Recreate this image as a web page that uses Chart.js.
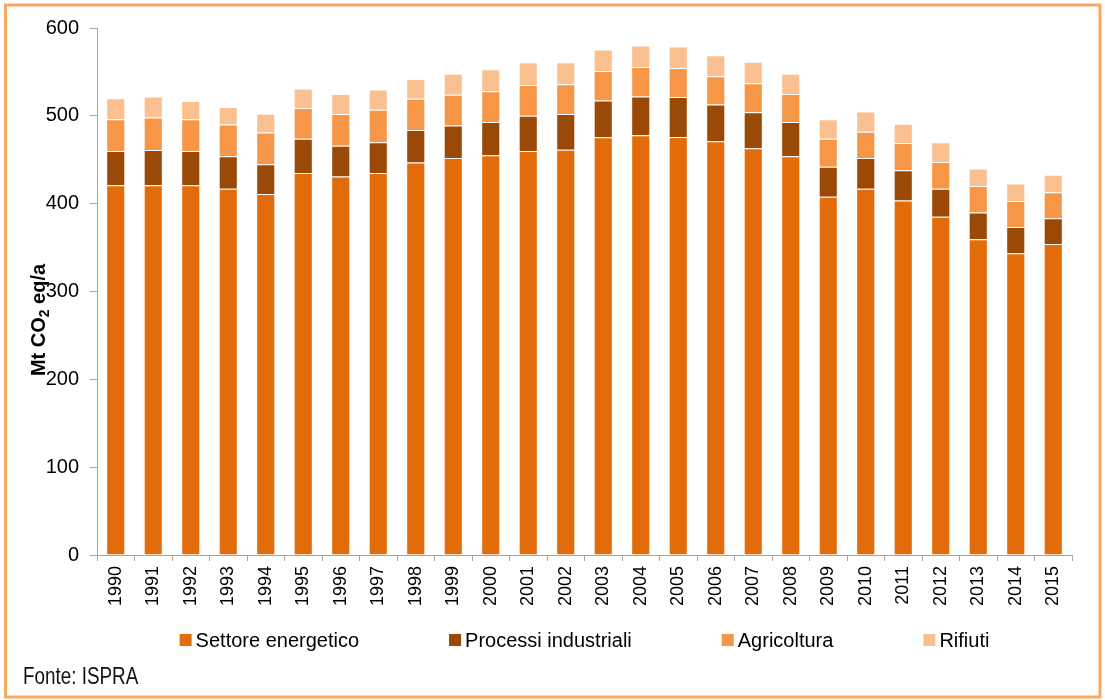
<!DOCTYPE html>
<html lang="it">
<head>
<meta charset="utf-8">
<title>Emissioni di gas serra per settore</title>
<script src="https://cdn.jsdelivr.net/npm/chart.js@4.4.1/dist/chart.umd.min.js"></script>
<style>
  html, body { margin: 0; padding: 0; background: #ffffff; }
  #wrap { position: relative; width: 1105px; height: 700px; }
  canvas { display: block; }
</style>
</head>
<body>
<div id="wrap"><canvas id="chart" width="1105" height="700"></canvas></div>
<script>
// Emissioni per settore, Mt CO2 eq/a
const years = ['1990','1991','1992','1993','1994','1995','1996','1997','1998','1999','2000','2001','2002',
               '2003','2004','2005','2006','2007','2008','2009','2010','2011','2012','2013','2014','2015'];
const energetico = [421, 421, 421, 417, 411, 435, 431, 435, 447, 452, 455, 460, 461.5,
                    475.5, 478, 476, 471, 463, 454, 408, 417, 403.5, 385, 359.5, 343.5, 354];
const industriali = [39, 40, 39, 37, 34, 39, 35, 35, 37, 37, 38, 40, 40.5,
                     42, 44, 45.5, 42, 41, 39, 34, 35, 34.5, 32, 30.5, 30, 29.5];
const agricoltura = [36, 37, 36, 36, 36, 35, 36, 37, 35.5, 35, 35, 35, 34,
                     33.5, 33.5, 33, 32, 33, 32, 32, 30, 31, 30.5, 30, 29.5, 29.5];
const rifiuti = [24, 24, 21, 20, 21.5, 22, 23, 23, 22.5, 24, 25, 26, 25,
                 24.5, 24.5, 24.5, 24, 24.5, 23, 22, 23, 22, 22.5, 20, 20, 20];
const yTicks = [0, 100, 200, 300, 400, 500, 600];
const seriesNames = ['Settore energetico', 'Processi industriali', 'Agricoltura', 'Rifiuti'];
const seriesColors = ['#E36C0A', '#9A4906', '#F79646', '#FAC090'];
const seriesValues = [energetico, industriali, agricoltura, rifiuti];

const FONT = '"Liberation Sans", Arial, Helvetica, sans-serif';
const AXIS_GREY = '#A6A6A6';
Chart.defaults.font.family = FONT;
Chart.defaults.color = '#000000';

// outer orange frame
const framePlugin = {
  id: 'frame',
  afterDraw(chart) {
    const ctx = chart.ctx;
    ctx.save();
    ctx.strokeStyle = '#F9A95F';
    ctx.lineWidth = 3;
    ctx.strokeRect(5.5, 5, 1094.5, 692);
    ctx.restore();
  }
};

// rotated y-axis title with a real subscript
const yTitlePlugin = {
  id: 'yTitle',
  afterDraw(chart) {
    const ctx = chart.ctx;
    const big = 'bold 20px ' + FONT;
    const small = 'bold 14px ' + FONT;
    const parts = [['Mt CO', big, 0], ['2', small, 4], [' eq/a', big, 0]];
    ctx.save();
    let total = 0;
    parts.forEach(p => { ctx.font = p[1]; p.push(ctx.measureText(p[0]).width); total += p[3]; });
    ctx.translate(45, 320);
    ctx.rotate(-Math.PI / 2);
    ctx.fillStyle = '#000';
    ctx.textBaseline = 'alphabetic';
    ctx.textAlign = 'left';
    let x = -total / 2;
    parts.forEach(p => { ctx.font = p[1]; ctx.fillText(p[0], x, p[2]); x += p[3]; });
    ctx.restore();
  }
};

// legend row under the axis labels, centred on the plot area
const legendRowPlugin = {
  id: 'legendRow',
  afterDraw(chart) {
    const ctx = chart.ctx;
    const area = chart.chartArea;
    const box = 12, gap = 4, spacing = 90, cy = 641;
    ctx.save();
    ctx.font = '20px ' + FONT;
    const items = chart.data.datasets.map(ds => ({
      text: ds.label, color: ds.backgroundColor, w: ctx.measureText(ds.label).width
    }));
    const total = items.reduce((s, it) => s + box + gap + it.w, 0) + spacing * (items.length - 1);
    let x = (area.left + area.right) / 2 - total / 2;
    ctx.textBaseline = 'middle';
    ctx.textAlign = 'left';
    items.forEach(it => {
      ctx.fillStyle = it.color;
      ctx.fillRect(x, cy - box / 2 - 1, box, box);
      ctx.fillStyle = '#000';
      ctx.fillText(it.text, x + box + gap, cy);
      x += box + gap + it.w + spacing;
    });
    ctx.restore();
  }
};

// source note, condensed face
const sourcePlugin = {
  id: 'source',
  afterDraw(chart) {
    const ctx = chart.ctx;
    ctx.save();
    ctx.translate(23, 684);
    ctx.scale(0.82, 1);
    ctx.font = '23px ' + FONT;
    ctx.fillStyle = '#111';
    ctx.textBaseline = 'alphabetic';
    ctx.fillText('Fonte: ISPRA', 0, 0);
    ctx.restore();
  }
};

new Chart(document.getElementById('chart'), {
  type: 'bar',
  data: {
    labels: years,
    datasets: seriesNames.map((name, i) => ({
      label: name,
      data: seriesValues[i],
      backgroundColor: seriesColors[i],
      borderColor: 'rgba(255,255,255,0.3)',
      borderWidth: 1,
      borderSkipped: 'start',
      barPercentage: 0.51,
      categoryPercentage: 1.0
    }))
  },
  options: {
    responsive: false,
    animation: false,
    devicePixelRatio: 1,
    layout: { padding: { left: 0, right: 33, top: 28, bottom: 95 } },
    plugins: {
      legend: { display: false },
      title: { display: false },
      tooltip: { enabled: false }
    },
    scales: {
      x: {
        stacked: true,
        offset: true,
        afterFit: s => { s.height = 50; },
        grid: {
          offset: true,
          drawOnChartArea: false,
          drawTicks: true,
          tickLength: 6,
          tickColor: AXIS_GREY
        },
        border: { display: true, color: AXIS_GREY, width: 1 },
        ticks: {
          autoSkip: false,
          maxRotation: 90,
          minRotation: 90,
          padding: 5,
          color: '#000',
          font: { size: 18 }
        }
      },
      y: {
        stacked: true,
        min: 0,
        max: 600,
        afterFit: s => { s.width = 97; },
        afterBuildTicks: s => { s.ticks = yTicks.map(v => ({ value: v })); },
        grid: {
          drawOnChartArea: false,
          drawTicks: true,
          tickLength: 7,
          tickColor: AXIS_GREY
        },
        border: { display: true, color: AXIS_GREY, width: 1 },
        ticks: {
          padding: 11,
          color: '#000',
          font: { size: 20 }
        }
      }
    }
  },
  plugins: [framePlugin, yTitlePlugin, legendRowPlugin, sourcePlugin]
});
</script>
</body>
</html>
